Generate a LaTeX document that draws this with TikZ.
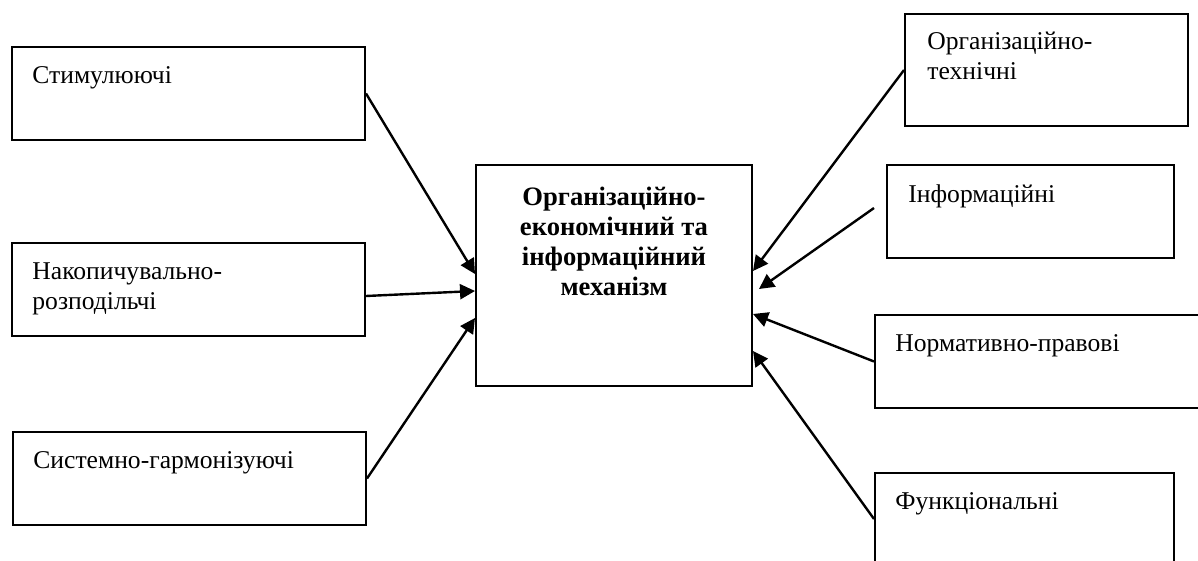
\documentclass[tikz,border=0pt]{standalone}
\usepackage{fontspec}
\setmainfont{Liberation Serif}
\usetikzlibrary{arrows.meta,positioning}

\begin{document}
\begin{tikzpicture}[x=0.5pt, y=-0.5pt,
    box/.style={draw, line width=1pt, anchor=north west, inner sep=0pt},
    side/.style={box, minimum width=176.5pt, minimum height=46.5pt},
    txt/.style={inner sep=0pt, align=left, font=\fontsize{12.8}{15}\selectfont},
    link/.style={line width=1.2pt, -{Triangle[length=7.5pt, width=7.5pt]}}
]
\useasboundingbox (0,0) rectangle (1198,561);
\clip (0,0) rectangle (1198,561);

\node[side] (stim)  at (11,46)  {};
\node[side] (nakop) at (11,242) {};
\node[side] (syst)  at (12,431) {};

\node[box, minimum width=138pt, minimum height=110.5pt] (mech) at (475,164) {};

\node[box, minimum width=141.5pt, minimum height=56pt]   (orgtech) at (904,13)  {};
\node[box, minimum width=143.5pt, minimum height=46.5pt] (inform)  at (886,164) {};
\node[box, minimum width=170pt,   minimum height=46.5pt] (norm)    at (874,314) {};
\node[box, minimum width=149.5pt, minimum height=46pt]   (funct)   at (874,472) {};

\node[txt, below right=10pt and 10.5pt of stim.north west]  {Стимулюючі};
\node[txt, below right=10pt and 10.5pt of nakop.north west] {Накопичувально-\\розподільчі};
\node[txt, below right=10pt and 10.5pt of syst.north west]  {Системно-гармонізуючі};

\node[txt, align=center, font=\fontsize{13.3}{15}\selectfont\bfseries,
      below=11.5pt of mech.north] {Організаційно-\\економічний та\\інформаційний\\механізм};

\node[txt, below right=9.5pt and 11.5pt of orgtech.north west] {Організаційно-\\технічні};
\node[txt, below right=10pt and 11pt of inform.north west]     {Інформаційні};
\node[txt, below right=10pt and 10.5pt of norm.north west]     {Нормативно-правові};
\node[txt, below right=10pt and 10.5pt of funct.north west]    {Функціональні};

\draw[link] (stim.east) -- ([yshift=0.75pt]mech.west);
\draw[link] ([yshift=-3.25pt]nakop.east) -- ([yshift=-7.75pt]mech.west);
\draw[link] (syst.east) -- ([yshift=-21.25pt]mech.west);

\draw[link] (orgtech.west) -- ([yshift=2.25pt]mech.east);
\draw[link] ([xshift=-6pt, yshift=1.75pt]inform.west) -- ([xshift=3pt, yshift=-6.75pt]mech.east);
\draw[link] (norm.west) -- ([yshift=-19.25pt]mech.east);
\draw[link] (funct.west) -- ([yshift=-37.75pt]mech.east);

\end{tikzpicture}
\end{document}
